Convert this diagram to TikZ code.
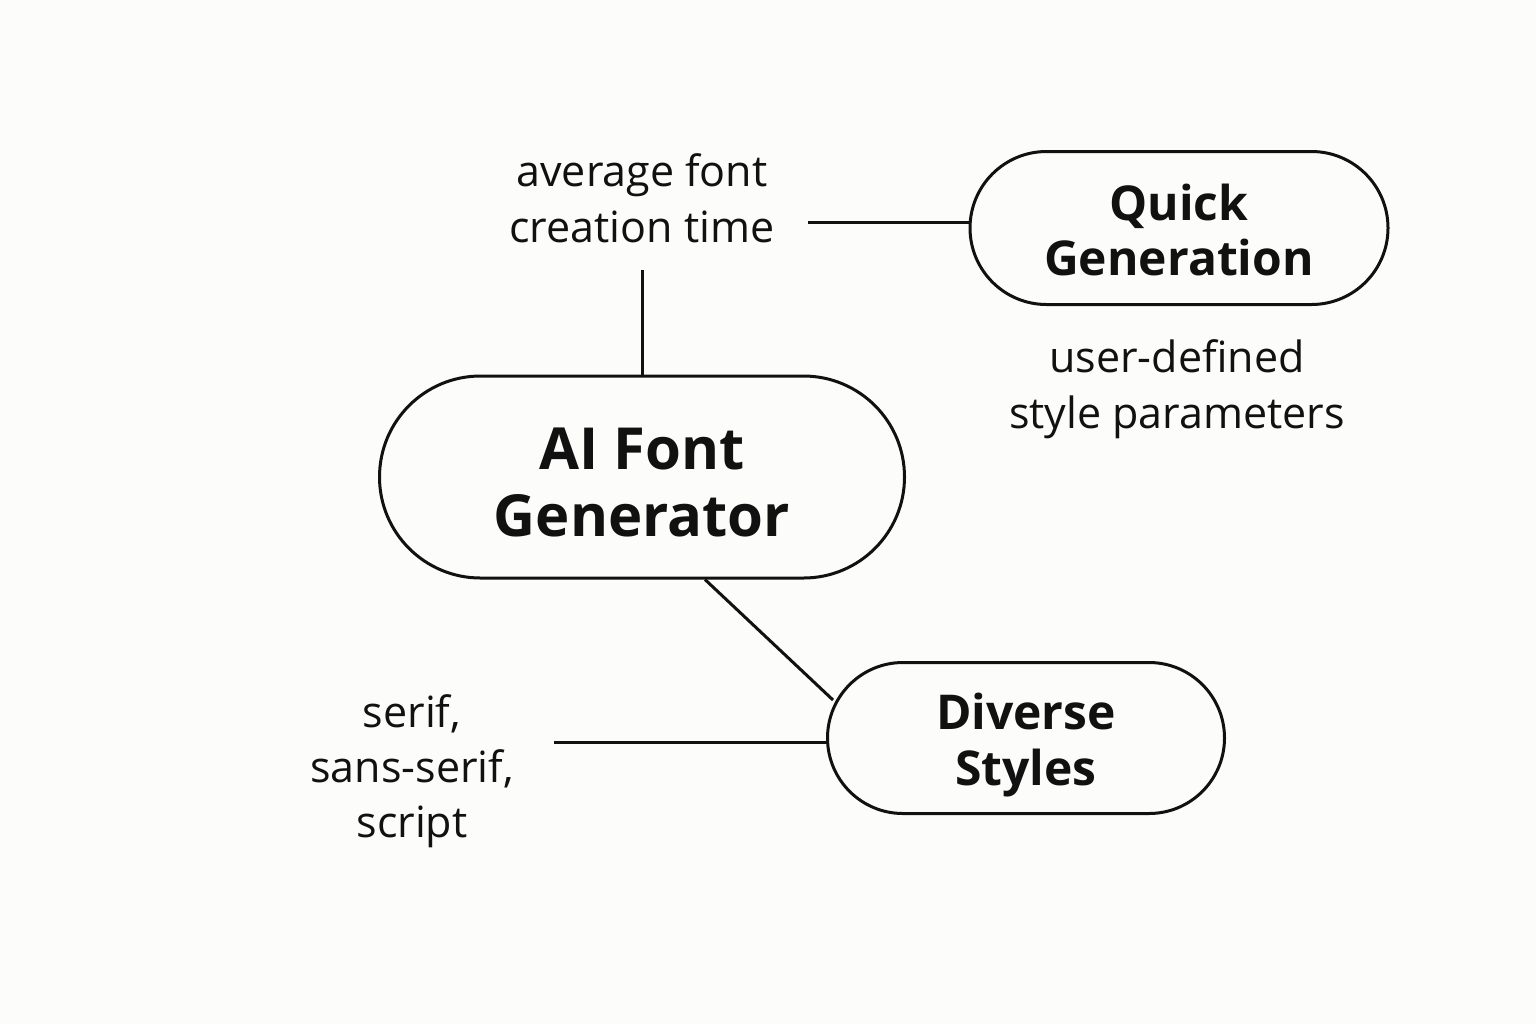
\documentclass[tikz,border=0pt]{standalone}
\usepackage{fontspec}
\setmainfont{Open Sans}
\usetikzlibrary{shapes.misc}
\definecolor{bgc}{RGB}{252,252,250}
\definecolor{ink}{RGB}{17,17,17}
\begin{document}
\begin{tikzpicture}[x=0.5pt,y=-0.5pt,
  pill/.style={rounded rectangle, draw=ink, line width=1.5pt, inner sep=0pt},
  ptxt/.style={align=center, font=\bfseries, text=ink, inner sep=0pt},
  lbl/.style={align=center, text=ink, inner sep=0pt, font=\fontsize{21.5}{28}\selectfont},
  conn/.style={draw=ink, line width=1.5pt}]
\fill[bgc] (0,0) rectangle (1536,1024);
\useasboundingbox (0,0) rectangle (1536,1024);
\node[pill, minimum width=262.5pt, minimum height=101pt] (main) at (642,477) {};
\node[ptxt, font=\bfseries\fontsize{29}{33.5}\selectfont] (mainT) at ([yshift=-2.5pt]main.center) {AI Font\\Generator};
\node[pill, minimum width=209pt, minimum height=76.5pt] (quick) at (1179,228) {};
\node[ptxt, font=\bfseries\fontsize{24}{27.5}\selectfont] (quickT) at ([yshift=-1pt]quick.center) {Quick\\Generation};
\node[pill, minimum width=198.5pt, minimum height=75.5pt] (div) at (1026,738) {};
\node[ptxt, font=\bfseries\fontsize{24}{28}\selectfont] (divT) at ([yshift=-3.5pt]div.center) {Diverse\\Styles};
\node[lbl] (avg) at (642,198) {average font\\creation time};
\node[lbl] (user) at (1177,389) {user-defined\\style parameters};
\node[lbl, font=\fontsize{21.5}{27.5}\selectfont] (serif) at (412,771) {serif,\\sans-serif,\\script};
\coordinate (a1) at (642,270);
\coordinate (a2) at (808,222);
\coordinate (s1) at (554,742);
\draw[conn] (a1) -- (main.north);
\draw[conn] (a2) -- (a2 -| quick.west);
\draw[conn] ([xshift=31.5pt]main.south) -- ([xshift=3.5pt,yshift=19pt]div.west);
\draw[conn] (s1) -- (s1 -| div.west);
\end{tikzpicture}
\end{document}
